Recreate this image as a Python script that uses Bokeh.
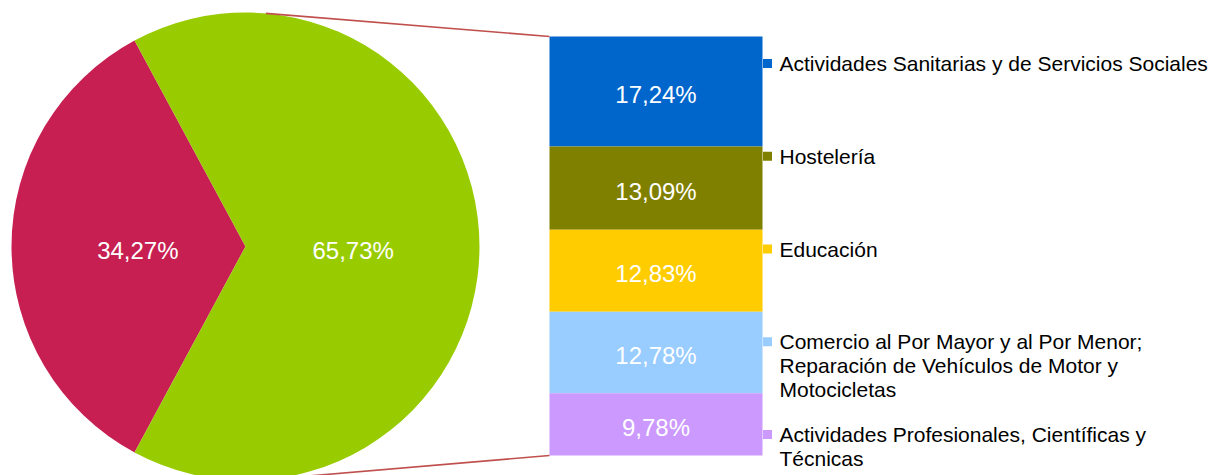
import math
from bokeh.plotting import figure
from bokeh.models import Range1d
from bokeh.core.properties import value
from bokeh.embed import file_html
from bokeh.resources import INLINE

# ---- data ----
pie_labels = ["Otros", "Top 5"]
pie_values = [34.27, 65.73]
pie_colors = ["#C71F52", "#99CC00"]

bar_categories = [
    "Actividades Sanitarias y de Servicios Sociales",
    "Hostelería",
    "Educación",
    "Comercio al Por Mayor y al Por Menor;\nReparación de Vehículos de Motor y\nMotocicletas",
    "Actividades Profesionales, Científicas y\nTécnicas",
]
bar_values = [17.24, 13.09, 12.83, 12.78, 9.78]
bar_colors = ["#0066CC", "#808000", "#FFCC00", "#99CCFF", "#CC99FF"]


def fmt(v):
    return ("%.2f" % v).replace(".", ",") + "%"


FONT = "Liberation Sans"
W, H = 1215, 475
p = figure(width=W, height=H, output_backend="svg", toolbar_location=None,
           x_range=Range1d(0, W), y_range=Range1d(0, H),
           min_border=0, outline_line_color=None)
p.axis.visible = False
p.grid.visible = False
p.background_fill_color = "white"
p.border_fill_color = "white"

# ---- pie ----
cx, cy, r = 245, 229, 234
total = sum(pie_values)
half = math.pi * pie_values[0] / total
starts = [math.pi - half, math.pi + half]
ends = [math.pi + half, math.pi - half + 2 * math.pi]
p.wedge(x=cx, y=cy, radius=r, start_angle=starts, end_angle=ends,
        fill_color=pie_colors, line_color=None)
mids = [(s + e) / 2 for s, e in zip(starts, ends)]
p.text(x=[cx + 0.46 * r * math.cos(m) for m in mids],
       y=[cy - 4 + 0.46 * r * math.sin(m) for m in mids],
       text=[fmt(v) for v in pie_values], text_color="white",
       text_font=value(FONT), text_font_size="24px",
       text_align="center", text_baseline="middle")

# ---- stacked bar ----
bx0, bx1 = 549, 762
btop, bbot = 439, 20
k = (btop - bbot) / sum(bar_values)
tops, bottoms = [], []
acc = 0.0
for v in bar_values:
    tops.append(btop - acc * k)
    acc += v
    bottoms.append(btop - acc * k)
p.quad(left=bx0, right=bx1, top=tops, bottom=bottoms,
       fill_color=bar_colors, line_color=None)
p.text(x=[(bx0 + bx1) / 2] * len(bar_values),
       y=[(t + b) / 2 - 3 for t, b in zip(tops, bottoms)],
       text=[fmt(v) for v in bar_values], text_color="white",
       text_font=value(FONT), text_font_size="24px",
       text_align="center", text_baseline="middle")

# ---- connector lines ----
ang = math.radians(85)
p.segment(x0=[cx + r * math.cos(ang), cx + r * math.cos(-ang)],
          y0=[cy + r * math.sin(ang), cy + r * math.sin(-ang)],
          x1=[bx0, bx0], y1=[btop, bbot],
          line_color="#C0504D", line_width=1.6)

# ---- legend ----
leg_y0, leg_step, line_h = 412, 92.75, 24
mx, tx = 767, 779
ys = [leg_y0 - i * leg_step for i in range(len(bar_categories))]
p.scatter(x=[mx] * len(ys), y=ys, marker="square", size=9,
          fill_color=bar_colors, line_color=None)
lx, ly, lt = [], [], []
for cat, y in zip(bar_categories, ys):
    for j, line in enumerate(cat.split("\n")):
        lx.append(tx)
        ly.append(y - j * line_h)
        lt.append(line)
p.text(x=lx, y=ly, text=lt, text_color="black", text_font=value(FONT),
       text_font_size="21px", text_align="left", text_baseline="middle")

open("out.html", "w").write(file_html(p, INLINE))
